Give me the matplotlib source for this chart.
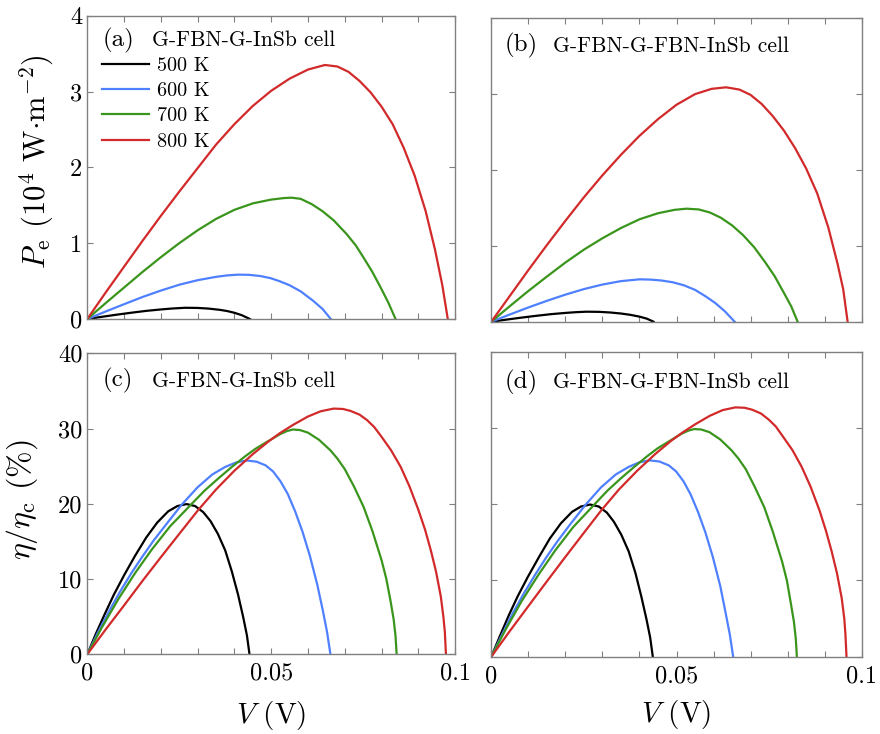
"""Output power and relative efficiency versus voltage for two cells."""

import matplotlib
matplotlib.use('Agg')
import matplotlib.pyplot as plt
import numpy as np

plt.rcParams['font.family'] = 'serif'
plt.rcParams['font.serif'] = ['cmr10', 'DejaVu Serif']
plt.rcParams['mathtext.fontset'] = 'cm'
plt.rcParams['axes.unicode_minus'] = False
plt.rcParams['axes.formatter.use_mathtext'] = True

temps = ['500 K', '600 K', '700 K', '800 K']
colors = ['#000000', '#4f80ff', '#3a951c', '#d22a2a']

# (a) G-FBN-G-InSb, P_e in 1e4 W/m^2
va_500 = [0, 0.004, 0.008, 0.012, 0.016, 0.02, 0.023, 0.0266, 0.03, 0.033, 0.036, 0.038, 0.040,
          0.042, 0.0442]
pa_500 = [0, 0.029, 0.057, 0.083, 0.107, 0.126, 0.138, 0.148, 0.146, 0.137, 0.121, 0.105, 0.082,
          0.050, 0]
va_600 = [0, 0.005, 0.01, 0.015, 0.02, 0.025, 0.03, 0.035, 0.038, 0.0411, 0.044, 0.047, 0.0497,
          0.0522, 0.055, 0.058, 0.0614, 0.064, 0.0662]
pa_600 = [0, 0.099, 0.195, 0.29, 0.375, 0.452, 0.512, 0.556, 0.575, 0.585, 0.582, 0.567, 0.54,
          0.50, 0.445, 0.365, 0.24, 0.13, 0]
va_700 = [0, 0.005, 0.01, 0.015, 0.02, 0.025, 0.03, 0.035, 0.04, 0.045, 0.05, 0.0535, 0.0555,
          0.058, 0.061, 0.064, 0.067, 0.0705, 0.073, 0.0751, 0.0775, 0.0797, 0.0818, 0.0838]
pa_700 = [0, 0.21, 0.415, 0.62, 0.815, 1.0, 1.17, 1.32, 1.44, 1.525, 1.575, 1.595, 1.60,
          1.585, 1.515, 1.42, 1.30, 1.12, 0.97, 0.81, 0.62, 0.42, 0.22, 0]
va_800 = [0, 0.005, 0.01, 0.015, 0.02, 0.025, 0.03, 0.035, 0.04, 0.045, 0.05, 0.055, 0.06,
          0.0646, 0.068, 0.071, 0.074, 0.077, 0.08, 0.083, 0.086, 0.089, 0.092, 0.0945, 0.0965, 0.098]
pa_800 = [0, 0.35, 0.69, 1.03, 1.36, 1.68, 1.99, 2.30, 2.57, 2.81, 3.01, 3.17, 3.29,
          3.35, 3.33, 3.26, 3.14, 2.99, 2.80, 2.57, 2.26, 1.89, 1.42, 0.92, 0.45, 0]

# (b) G-FBN-G-FBN-InSb
vb_500 = [0, 0.004, 0.008, 0.012, 0.016, 0.02, 0.023, 0.0257, 0.029, 0.032, 0.035, 0.0375, 0.04,
          0.042, 0.0438]
pb_500 = [0, 0.027, 0.053, 0.077, 0.099, 0.116, 0.126, 0.132, 0.130, 0.122, 0.108, 0.091, 0.067,
          0.040, 0]
vb_600 = [0, 0.005, 0.01, 0.015, 0.02, 0.025, 0.03, 0.035, 0.0401, 0.043, 0.046, 0.049, 0.052,
          0.055, 0.058, 0.0605, 0.063, 0.0657]
pb_600 = [0, 0.095, 0.188, 0.275, 0.357, 0.43, 0.49, 0.535, 0.559, 0.555, 0.543, 0.52, 0.48,
          0.42, 0.33, 0.245, 0.14, 0]
vb_700 = [0, 0.005, 0.01, 0.015, 0.02, 0.025, 0.03, 0.035, 0.04, 0.045, 0.0495, 0.0527, 0.056,
          0.059, 0.062, 0.065, 0.068, 0.071, 0.074, 0.0765, 0.079, 0.081, 0.0827]
pb_700 = [0, 0.205, 0.405, 0.595, 0.78, 0.95, 1.10, 1.235, 1.35, 1.43, 1.475, 1.49, 1.48,
          1.44, 1.37, 1.27, 1.14, 0.98, 0.78, 0.60, 0.38, 0.20, 0]
vb_800 = [0, 0.005, 0.01, 0.015, 0.02, 0.025, 0.03, 0.035, 0.04, 0.045, 0.05, 0.055, 0.0595,
          0.0634, 0.067, 0.07, 0.073, 0.076, 0.079, 0.082, 0.085, 0.088, 0.091, 0.0935, 0.095, 0.0962]
pb_800 = [0, 0.34, 0.68, 1.01, 1.33, 1.64, 1.93, 2.20, 2.45, 2.67, 2.86, 3.00, 3.07,
          3.09, 3.06, 2.99, 2.87, 2.71, 2.52, 2.29, 2.02, 1.69, 1.24, 0.76, 0.43, 0]

# (c) G-FBN-G-InSb, eta/eta_c in %
vc_500 = [0, 0.0024, 0.0048, 0.0072, 0.01, 0.013, 0.016, 0.019, 0.022, 0.0245, 0.027, 0.0293,
          0.0315, 0.0335, 0.0355, 0.0375, 0.0393, 0.041, 0.0424, 0.0434, 0.0441]
ec_500 = [0, 2.8, 5.4, 7.9, 10.5, 13.1, 15.5, 17.5, 19.0, 19.7, 19.96, 19.7,
          18.9, 17.7, 16.0, 13.8, 11.0, 7.9, 4.9, 2.5, 0]
vc_600 = [0, 0.003, 0.006, 0.009, 0.012, 0.015, 0.018, 0.0215, 0.0257, 0.03, 0.034, 0.0375, 0.0405,
          0.0433, 0.046, 0.0485, 0.0505, 0.0525, 0.0545, 0.0565, 0.0585, 0.0605, 0.0625, 0.064,
          0.0652, 0.0661]
ec_600 = [0, 3.0, 5.8, 8.4, 10.8, 13.0, 15.1, 17.3, 19.9, 22.2, 23.9, 24.9, 25.5,
          25.75, 25.6, 25.1, 24.3, 23.0, 21.3, 19.0, 16.3, 13.1, 9.3, 5.9,
          2.9, 0]
vc_700 = [0, 0.004, 0.0084, 0.013, 0.0175, 0.0225, 0.0284, 0.032, 0.0357, 0.0393, 0.0429, 0.0457,
          0.0484, 0.0505, 0.0524, 0.0542, 0.0559, 0.0578, 0.06, 0.063, 0.0661, 0.068, 0.07, 0.0725,
          0.0751, 0.0775, 0.08, 0.0813, 0.0824, 0.0833, 0.0838, 0.0841]
ec_700 = [0, 3.6, 7.3, 10.8, 13.9, 17.0, 20.0, 21.8, 23.4, 24.9, 26.3, 27.3,
          28.1, 28.7, 29.25, 29.65, 29.87, 29.8, 29.45, 28.5, 27.1, 26.0, 24.6, 22.3,
          19.6, 16.4, 12.5, 10.0, 7.2, 4.6, 2.4, 0]
vc_800 = [0, 0.005, 0.01, 0.015, 0.02, 0.025, 0.0302, 0.035, 0.04, 0.045, 0.0493, 0.0524, 0.056,
          0.06, 0.0635, 0.067, 0.0695, 0.0715, 0.074, 0.0761, 0.078, 0.08, 0.0826, 0.0852, 0.0876,
          0.09, 0.0918, 0.0934, 0.0948, 0.0961, 0.0968, 0.0972, 0.0975]
ec_800 = [0, 3.3, 6.5, 9.75, 12.9, 16.0, 19.2, 21.9, 24.4, 26.6, 28.3, 29.4, 30.5,
          31.6, 32.3, 32.65, 32.6, 32.35, 31.85, 31.1, 30.2, 28.9, 27.1, 24.9, 22.3,
          19.2, 16.6, 13.8, 11.0, 7.7, 5.0, 3.0, 0]

# (d) G-FBN-G-FBN-InSb
vd_500 = [0, 0.0024, 0.0047, 0.0071, 0.0099, 0.0129, 0.0158, 0.0188, 0.0218, 0.0242, 0.0267, 0.029,
          0.0312, 0.0331, 0.0351, 0.0371, 0.0389, 0.0405, 0.0419, 0.0429, 0.0436]
ed_500 = [0, 2.8, 5.4, 7.9, 10.5, 13.1, 15.5, 17.5, 19.0, 19.7, 19.96, 19.7,
          18.9, 17.7, 16.0, 13.8, 11.0, 7.9, 4.9, 2.5, 0]
vd_600 = [0, 0.003, 0.0059, 0.0089, 0.0119, 0.0148, 0.0178, 0.0212, 0.0254, 0.0296, 0.0336, 0.0371,
          0.04, 0.0428, 0.0454, 0.0479, 0.0499, 0.0519, 0.0538, 0.0558, 0.0578, 0.0598, 0.0618,
          0.0632, 0.0644, 0.0653]
ed_600 = [0, 3.0, 5.8, 8.4, 10.8, 13.0, 15.1, 17.3, 19.9, 22.2, 23.9, 24.9,
          25.5, 25.75, 25.6, 25.1, 24.3, 23.0, 21.3, 19.0, 16.3, 13.1, 9.3,
          5.9, 2.9, 0]
vd_700 = [0, 0.0039, 0.0082, 0.0128, 0.0172, 0.0221, 0.0279, 0.0314, 0.035, 0.0386, 0.0421, 0.0448,
          0.0475, 0.0495, 0.0514, 0.0532, 0.0548, 0.0567, 0.0589, 0.0618, 0.0648, 0.0667, 0.0687,
          0.0711, 0.0737, 0.076, 0.0785, 0.0798, 0.0808, 0.0817, 0.0822, 0.0825]
ed_700 = [0, 3.6, 7.3, 10.8, 13.9, 17.0, 20.0, 21.8, 23.4, 24.9, 26.3, 27.3,
          28.1, 28.7, 29.25, 29.65, 29.86, 29.8, 29.45, 28.5, 27.1, 26.0, 24.6,
          22.3, 19.6, 16.4, 12.5, 10.0, 7.2, 4.6, 2.4, 0]
vd_800 = [0, 0.0049, 0.0098, 0.0148, 0.0197, 0.0246, 0.0297, 0.0344, 0.0394, 0.0443, 0.0485, 0.0516,
          0.0551, 0.059, 0.0625, 0.0659, 0.0684, 0.0704, 0.0728, 0.0749, 0.0768, 0.0787, 0.0813,
          0.0838, 0.0862, 0.0886, 0.0903, 0.0919, 0.0933, 0.0946, 0.0953, 0.0956, 0.0959]
ed_800 = [0, 3.3, 6.5, 9.75, 12.9, 16.0, 19.2, 21.9, 24.4, 26.6, 28.3, 29.4,
          30.5, 31.6, 32.35, 32.7, 32.65, 32.4, 31.9, 31.1, 30.2, 28.9, 27.1,
          24.9, 22.3, 19.2, 16.6, 13.8, 11.0, 7.7, 5.0, 3.0, 0]

panels = [
    ([va_500, va_600, va_700, va_800], [pa_500, pa_600, pa_700, pa_800],
     [0.0992, 0.5654, 0.4180, 0.4132], '(a)', 'G-FBN-G-InSb cell', (0.043, 0.176, 0.90)),
    ([vb_500, vb_600, vb_700, vb_800], [pb_500, pb_600, pb_700, pb_800],
     [0.5583, 0.5617, 0.4209, 0.4134], '(b)', 'G-FBN-G-FBN-InSb cell', (0.037, 0.166, 0.89)),
    ([vc_500, vc_600, vc_700, vc_800], [ec_500, ec_600, ec_700, ec_800],
     [0.0992, 0.1086, 0.4180, 0.4101], '(c)', 'G-FBN-G-InSb cell', (0.043, 0.176, 0.889)),
    ([vd_500, vd_600, vd_700, vd_800], [ed_500, ed_600, ed_700, ed_800],
     [0.5583, 0.1053, 0.4209, 0.4155], '(d)', 'G-FBN-G-FBN-InSb cell', (0.037, 0.166, 0.88)),
]

frame = '#808080'
fig = plt.figure(figsize=(8.8, 7.34), dpi=100)

axes = []
for k, (vs, ys, rect, tag, name, (xt_tag, xt_name, yt)) in enumerate(panels):
    ax = fig.add_axes(rect)
    axes.append(ax)
    for v, y, c, t in zip(vs, ys, colors, temps):
        ax.plot(v, y, color=c, lw=1.6, label=t, solid_joinstyle='round')

    ax.set_xlim(0, 0.1)
    top_row = k < 2
    if top_row:
        ax.set_ylim(0, 4)
        ax.set_yticks([0, 1, 2, 3, 4])
    else:
        ax.set_ylim(0, 40)
        ax.set_yticks([0, 10, 20, 30, 40])

    xt = np.round(np.arange(0, 0.1001, 0.01), 3)
    ax.set_xticks(xt)
    if top_row:
        ax.set_xticklabels([])
    else:
        names = {0.0: '0', 0.05: '0.05', 0.1: '0.1'}
        ax.set_xticklabels([names.get(x, '') for x in xt])
    if k % 2 == 1:
        ax.set_yticklabels([])
    else:
        ax.set_yticklabels([str(t) for t in ax.get_yticks().astype(int)])

    ax.tick_params(direction='in', top=True, right=True, length=4, width=0.8,
                   color=frame, labelsize=17.5)
    ax.tick_params(axis='x', pad=6)
    ax.tick_params(axis='y', pad=3.5)
    for s in ax.spines.values():
        s.set_color(frame)
        s.set_linewidth(1.0)

    ax.text(xt_tag, yt, tag, transform=ax.transAxes, fontsize=18, va='baseline', ha='left')
    ax.text(xt_name, yt, name, transform=ax.transAxes, fontsize=15.5, va='baseline', ha='left')

axes[0].legend(loc='upper left', bbox_to_anchor=(0.040, 0.865), frameon=False, fontsize=14.5,
               handlelength=2.34, handletextpad=0.4, labelspacing=0.36, borderpad=0,
               borderaxespad=0)

axes[0].set_ylabel(r'$P_{\rm e}$ (10$^4$ W$\cdot$m$^{-2}$)', fontsize=22, va='center')
axes[0].yaxis.set_label_coords(-0.137, 0.518)
axes[2].set_ylabel(r'$\eta/\eta_{\rm c}$ (%)', fontsize=23, va='center')
axes[2].yaxis.set_label_coords(-0.178, 0.513)
axes[2].set_xlabel(r'$V$ (V)', fontsize=21, va='center')
axes[2].xaxis.set_label_coords(0.5, -0.202)
axes[3].set_xlabel(r'$V$ (V)', fontsize=21, va='center')
axes[3].xaxis.set_label_coords(0.5, -0.191)

plt.savefig('out.png', dpi=100)
plt.close()
